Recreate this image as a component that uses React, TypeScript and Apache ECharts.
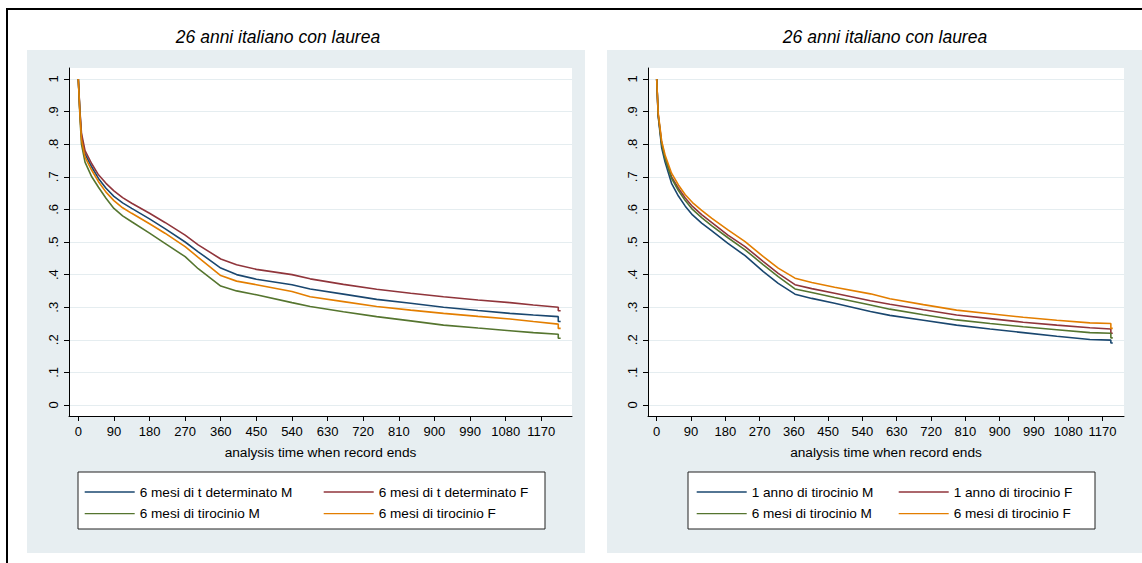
import React, { useEffect, useRef } from "react";
import * as echarts from "echarts";

const FONT = "'Liberation Sans', Arial, sans-serif";

const panelTitle = "26 anni italiano con laurea";
const xTitle = "analysis time when record ends";
const xTicks = [0, 90, 180, 270, 360, 450, 540, 630, 720, 810, 900, 990, 1080, 1170];
const yTicks = [0, 0.1, 0.2, 0.3, 0.4, 0.5, 0.6, 0.7, 0.8, 0.9, 1];

// Left panel
const leftTimes = [0, 4, 8, 17, 34, 51, 70, 90, 112, 135, 180, 219, 270, 303, 360, 400, 450, 540, 586, 670, 754, 840, 923, 1010, 1091, 1150, 1213, 1213, 1219];
const leftDetM = [1, 0.9, 0.825, 0.77, 0.73, 0.695, 0.665, 0.64, 0.62, 0.603, 0.571, 0.541, 0.5, 0.47, 0.42, 0.4, 0.386, 0.369, 0.356, 0.34, 0.324, 0.312, 0.3, 0.29, 0.281, 0.276, 0.271, 0.256, 0.256];
const leftDetF = [1, 0.905, 0.834, 0.78, 0.74, 0.706, 0.68, 0.657, 0.636, 0.619, 0.588, 0.56, 0.521, 0.491, 0.448, 0.43, 0.416, 0.4, 0.387, 0.37, 0.355, 0.343, 0.332, 0.322, 0.314, 0.307, 0.3, 0.289, 0.289];
const leftTirM = [1, 0.89, 0.8, 0.745, 0.7, 0.668, 0.634, 0.603, 0.58, 0.562, 0.527, 0.496, 0.455, 0.418, 0.365, 0.35, 0.338, 0.314, 0.302, 0.286, 0.271, 0.258, 0.245, 0.236, 0.228, 0.222, 0.217, 0.205, 0.205];
const leftTirF = [1, 0.895, 0.815, 0.76, 0.72, 0.685, 0.653, 0.627, 0.605, 0.588, 0.556, 0.527, 0.486, 0.453, 0.397, 0.38, 0.369, 0.348, 0.332, 0.317, 0.302, 0.291, 0.281, 0.272, 0.264, 0.256, 0.248, 0.235, 0.235];

// Right panel
const rightTimes = [0, 4, 13, 22, 39, 57, 75, 94, 118, 144, 187, 232, 280, 319, 363, 407, 467, 561, 612, 700, 787, 875, 962, 1050, 1137, 1192, 1192, 1197];
const rightAnnoM = [1, 0.885, 0.79, 0.745, 0.68, 0.641, 0.61, 0.583, 0.558, 0.535, 0.496, 0.458, 0.409, 0.373, 0.34, 0.327, 0.312, 0.287, 0.275, 0.26, 0.245, 0.233, 0.222, 0.211, 0.201, 0.199, 0.19, 0.19];
const rightAnnoF = [1, 0.89, 0.805, 0.76, 0.7, 0.665, 0.635, 0.609, 0.584, 0.56, 0.521, 0.486, 0.44, 0.404, 0.369, 0.357, 0.343, 0.32, 0.309, 0.292, 0.276, 0.265, 0.254, 0.245, 0.237, 0.233, 0.22, 0.22];
const rightMesiM = [1, 0.89, 0.8, 0.755, 0.695, 0.658, 0.627, 0.6, 0.575, 0.55, 0.513, 0.476, 0.43, 0.394, 0.356, 0.345, 0.33, 0.307, 0.294, 0.277, 0.261, 0.25, 0.24, 0.231, 0.222, 0.22, 0.206, 0.206];
const rightMesiF = [1, 0.895, 0.81, 0.767, 0.711, 0.675, 0.645, 0.621, 0.597, 0.573, 0.537, 0.501, 0.455, 0.42, 0.389, 0.376, 0.361, 0.341, 0.326, 0.308, 0.291, 0.28, 0.269, 0.26, 0.252, 0.25, 0.235, 0.235];

const NAVY = "#1a476f";
const MAROON = "#90353b";
const GREEN = "#55752f";
const ORANGE = "#e37e00";
const BG = "#e7eef1";
const GRIDLINE = "#e5edf0";

const pairs = (xs: number[], ys: number[]) => xs.map((x, i) => [x, ys[i]]);

const xAxisCfg = (gridIndex: number, min: number, max: number) => ({
  type: "value",
  gridIndex,
  min,
  max,
  axisLine: { show: true, onZero: false, lineStyle: { color: "#000", width: 1 } },
  axisTick: { show: true, length: 5, customValues: xTicks, lineStyle: { color: "#000" } },
  axisLabel: {
    customValues: xTicks,
    margin: 9,
    fontSize: 13,
    fontFamily: FONT,
    color: "#000",
    hideOverlap: false,
    showMinLabel: true,
    showMaxLabel: true,
    formatter: (v: number) => String(v),
  },
  splitLine: { show: false },
  name: xTitle,
  nameLocation: "middle",
  nameGap: 29,
  nameTextStyle: { fontSize: 13.7, fontFamily: FONT, color: "#000" },
});

const yAxisCfg = (gridIndex: number) => ({
  type: "value",
  gridIndex,
  min: -0.0337,
  max: 1.0337,
  axisLine: { show: true, onZero: false, lineStyle: { color: "#000", width: 1 } },
  axisTick: { show: true, length: 5, customValues: yTicks, lineStyle: { color: "#000" } },
  axisLabel: {
    customValues: yTicks,
    rotate: 90,
    margin: 9,
    fontSize: 13,
    fontFamily: FONT,
    color: "#000",
    formatter: (v: number) => (v === 0 ? "0" : v === 1 ? "1" : "." + Math.round(v * 10)),
  },
  splitLine: { show: true, lineStyle: { color: GRIDLINE, width: 1 } },
});

const lineSeries = (name: string, color: string, data: number[][], idx: number) => ({
  type: "line",
  name,
  xAxisIndex: idx,
  yAxisIndex: idx,
  data,
  showSymbol: false,
  symbol: "none",
  lineStyle: { color, width: 1.6 },
  itemStyle: { color },
  z: 3,
});

const legendCfg = (left: number, names: string[]) => ({
  left,
  top: 485,
  orient: "vertical",
  padding: 0,
  itemWidth: 50,
  itemHeight: 14,
  itemGap: 7.6,
  data: names,
  selectedMode: false,
  itemStyle: { opacity: 0 },
  lineStyle: { width: 1.4 },
  textStyle: { fontSize: 13.6, fontFamily: FONT, color: "#000" },
});

export default function App() {
  const ref = useRef<HTMLDivElement>(null);
  useEffect(() => {
    const chart = echarts.init(ref.current!, null, { renderer: "svg" });
    const titleStyle = { text: panelTitle, fontSize: 17.5, fontStyle: "italic", fontFamily: FONT, fill: "#000", textAlign: "center", textVerticalAlign: "middle" };
    const option: any = {
      animation: false,
      backgroundColor: "#fff",
      graphic: [
        { type: "rect", shape: { x: 27, y: 50, width: 558, height: 503 }, style: { fill: BG }, z: -10 },
        { type: "rect", shape: { x: 607, y: 50, width: 540, height: 503 }, style: { fill: BG }, z: -10 },
        { type: "polyline", shape: { points: [[7, 563], [7, 9], [1142, 9]] }, style: { stroke: "#000", lineWidth: 2, fill: null } },
        { type: "rect", shape: { x: 78, y: 472, width: 467, height: 57 }, style: { fill: "#fff", stroke: "#222", lineWidth: 1 }, z: -5 },
        { type: "rect", shape: { x: 688, y: 472, width: 407, height: 57 }, style: { fill: "#fff", stroke: "#222", lineWidth: 1 }, z: -5 },
        { type: "text", x: 278, y: 37, style: { ...titleStyle } },
        { type: "text", x: 885, y: 37, style: { ...titleStyle } },
      ],
      grid: [
        { left: 69, top: 68, width: 503, height: 348, show: true, backgroundColor: "#fff", borderWidth: 0, containLabel: false },
        { left: 648, top: 68, width: 476, height: 348, show: true, backgroundColor: "#fff", borderWidth: 0, containLabel: false },
      ],
      xAxis: [xAxisCfg(0, -23.5, 1247.7), xAxisCfg(1, -22.8, 1226.5)],
      yAxis: [yAxisCfg(0), yAxisCfg(1)],
      legend: [
        legendCfg(84, ["6 mesi di t determinato M", "6 mesi di tirocinio M"]),
        legendCfg(323, ["6 mesi di t determinato F", "6 mesi di tirocinio F"]),
        legendCfg(696, ["1 anno di tirocinio M", "6 mesi di tirocinio M"]),
        legendCfg(898, ["1 anno di tirocinio F", "6 mesi di tirocinio F"]),
      ],
      series: [
        lineSeries("6 mesi di t determinato M", NAVY, pairs(leftTimes, leftDetM), 0),
        lineSeries("6 mesi di t determinato F", MAROON, pairs(leftTimes, leftDetF), 0),
        lineSeries("6 mesi di tirocinio M", GREEN, pairs(leftTimes, leftTirM), 0),
        lineSeries("6 mesi di tirocinio F", ORANGE, pairs(leftTimes, leftTirF), 0),
        lineSeries("1 anno di tirocinio M", NAVY, pairs(rightTimes, rightAnnoM), 1),
        lineSeries("1 anno di tirocinio F", MAROON, pairs(rightTimes, rightAnnoF), 1),
        lineSeries("6 mesi di tirocinio M", GREEN, pairs(rightTimes, rightMesiM), 1),
        lineSeries("6 mesi di tirocinio F", ORANGE, pairs(rightTimes, rightMesiF), 1),
      ],
    };
    chart.setOption(option);
    return () => chart.dispose();
  }, []);
  return <div ref={ref} style={{ position: "absolute", left: 0, top: 0, width: 1142, height: 563 }} />;
}
